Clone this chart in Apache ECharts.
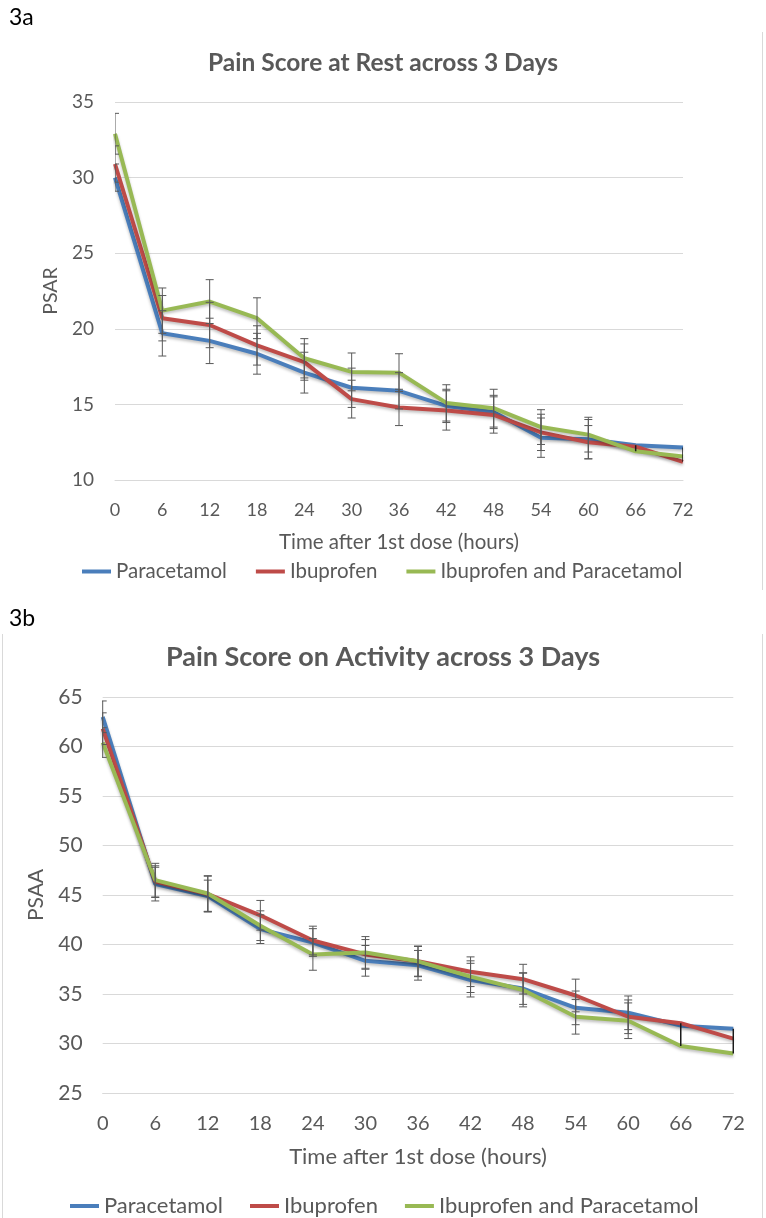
<!DOCTYPE html>
<html><head><meta charset="utf-8">
<script src="https://cdn.jsdelivr.net/npm/echarts@6/dist/echarts.min.js"></script>
<style>html,body{margin:0;padding:0;background:#fff}#c{width:766px;height:1218px}</style>
</head><body><div id="c"></div>
<script>
// ---- data ----
const hours = ['0','6','12','18','24','30','36','42','48','54','60','66','72'];
const seriesNames = ['Paracetamol','Ibuprofen','Ibuprofen and Paracetamol'];
const titleRest = 'Pain Score at Rest across 3 Days';
const titleActivity = 'Pain Score on Activity across 3 Days';
const xName = 'Time after 1st dose (hours)';

// Fig 3a: PSAR
const psarParacetamol = [30.0, 19.7, 19.2, 18.35, 17.1, 16.1, 15.9, 14.9, 14.5, 12.8, 12.7, 12.3, 12.15];
const psarIbuprofen   = [30.9, 20.7, 20.25, 18.9, 17.8, 15.35, 14.8, 14.6, 14.3, 13.15, 12.5, 12.2, 11.2];
const psarCombined    = [32.9, 21.2, 21.8, 20.7, 18.05, 17.15, 17.1, 15.1, 14.75, 13.5, 13.0, 11.9, 11.55];
const psarParacetamolErr = [0.9, 1.5, 1.5, 1.35, 1.35, 1.3, 1.2, 1.1, 1.1, 1.3, 1.3, null, null];
const psarIbuprofenErr   = [1.2, 1.5, 1.5, 1.3, 1.2, 1.25, 1.2, 1.3, 1.2, 1.2, 1.1, null, null];
const psarCombinedErr    = [1.35, 1.5, 1.45, 1.35, 1.3, 1.25, 1.25, 1.2, 1.25, 1.15, 1.15, null, null];

// Fig 3b: PSAA
const psaaParacetamol = [63.0, 46.1, 44.9, 41.55, 40.2, 38.35, 37.9, 36.4, 35.55, 33.6, 33.1, 31.8, 31.5];
const psaaIbuprofen   = [61.8, 46.35, 45.1, 42.95, 40.4, 39.0, 38.3, 37.25, 36.5, 34.85, 32.7, 32.05, 30.5];
const psaaCombined    = [60.4, 46.5, 45.15, 41.9, 39.0, 39.2, 38.3, 36.75, 35.4, 32.7, 32.3, 29.75, 29.0];
const psaaParacetamolErr = [1.6, 1.7, 1.6, 1.45, 1.4, 1.55, 1.5, 1.7, 1.6, 1.7, 1.7, null, null];
const psaaIbuprofenErr   = [1.6, 1.6, 1.8, 1.5, 1.45, 1.5, 1.55, 1.5, 1.5, 1.65, 1.7, null, null];
const psaaCombinedErr    = [1.5, 1.7, 1.8, 1.5, 1.6, 1.6, 1.5, 1.6, 1.7, 1.75, 1.8, null, null];

// ---- styling ----
const FONT = 'Lato';
const colors = ['#4A7EBB', '#BE4B48', '#98B954'];
const gray = '#595959';

function errData(vals, errs) {
  const out = [];
  vals.forEach((v, si) => {
    v.forEach((y, j) => {
      const e = errs[si][j];
      if (e != null) out.push([j, y - e, y + e]);
    });
  });
  return out;
}
function rangeData(vals, errs) {
  const out = [];
  for (let j = 0; j < vals[0].length; j++) {
    if (errs[0][j] == null) {
      const ys = vals.map(v => v[j]);
      out.push([j, Math.min(...ys), Math.max(...ys)]);
    }
  }
  return out;
}
function makeRender(cap, color, width) {
  return function (params, api) {
    const x = api.value(0);
    const lo = api.coord([x, api.value(1)]);
    const hi = api.coord([x, api.value(2)]);
    const st = { stroke: color, lineWidth: width };
    const ch = [{ type: 'line', shape: { x1: lo[0], y1: lo[1], x2: hi[0], y2: hi[1] }, style: st }];
    if (cap) {
      ch.push({ type: 'line', shape: { x1: lo[0] - cap, y1: lo[1], x2: lo[0] + cap, y2: lo[1] }, style: st });
      ch.push({ type: 'line', shape: { x1: hi[0] - cap, y1: hi[1], x2: hi[0] + cap, y2: hi[1] }, style: st });
    }
    return { type: 'group', children: ch };
  };
}

const restVals = [psarParacetamol, psarIbuprofen, psarCombined];
const restErrs = [psarParacetamolErr, psarIbuprofenErr, psarCombinedErr];
const actVals = [psaaParacetamol, psaaIbuprofen, psaaCombined];
const actErrs = [psaaParacetamolErr, psaaIbuprofenErr, psaaCombinedErr];

function lineSeries(vals, idx) {
  return vals.map((v, i) => ({
    name: seriesNames[i], type: 'line', xAxisIndex: idx, yAxisIndex: idx,
    data: v, symbol: 'none', smooth: false, z: 2 + i,
    color: colors[i],
    lineStyle: { width: 4, color: colors[i], shadowColor: 'rgba(0,0,0,0.25)', shadowBlur: 3, shadowOffsetY: 2 }
  }));
}

const chart = echarts.init(document.getElementById('c'), null, { renderer: 'canvas' });
const option = {
  backgroundColor: '#fff',
  animation: false,
  textStyle: { fontFamily: FONT },
  title: [
    { text: titleRest, left: 'center', top: 51, padding: 0,
      textStyle: { fontFamily: FONT, fontSize: 24.5, fontWeight: 'bold', color: gray } },
    { text: titleActivity, left: 'center', top: 644, padding: 0,
      textStyle: { fontFamily: FONT, fontSize: 27, fontWeight: 'bold', color: gray } }
  ],
  legend: [
    { left: 82, top: 561, padding: 0, itemGap: 29, itemWidth: 29, itemHeight: 4, icon: 'rect',
      data: seriesNames, selectedMode: false,
      textStyle: { fontFamily: FONT, fontSize: 20.5, color: gray } },
    { left: 70, top: 1195, padding: 0, itemGap: 27, itemWidth: 29, itemHeight: 4, icon: 'rect',
      data: seriesNames, selectedMode: false,
      textStyle: { fontFamily: FONT, fontSize: 22, color: gray } }
  ],
  grid: [
    { left: 115, width: 568, top: 102, height: 378 },
    { left: 102.7, width: 630.6, top: 697, height: 396 }
  ],
  xAxis: [0, 1].map(i => ({
    type: 'category', gridIndex: i, data: hours, boundaryGap: false,
    axisLine: { show: true, lineStyle: { color: '#D9D9D9', width: 1 } },
    axisTick: { show: false },
    axisLabel: { color: gray, fontFamily: FONT, fontSize: i ? 20 : 18, margin: i ? 21 : 21 },
    name: xName, nameLocation: 'middle', nameGap: i ? 53 : 52,
    nameTextStyle: { color: gray, fontFamily: FONT, fontSize: i ? 22 : 20.5 }
  })),
  yAxis: [
    { type: 'value', gridIndex: 0, min: 10, max: 35, interval: 5,
      axisLine: { show: false }, axisTick: { show: false },
      splitLine: { lineStyle: { color: '#D9D9D9', width: 1 } },
      axisLabel: { color: gray, fontFamily: FONT, fontSize: 19, margin: 21 },
      name: 'PSAR', nameLocation: 'middle', nameGap: 52,
      nameTextStyle: { color: gray, fontFamily: FONT, fontSize: 19.5 } },
    { type: 'value', gridIndex: 1, min: 25, max: 65, interval: 5,
      axisLine: { show: false }, axisTick: { show: false },
      splitLine: { lineStyle: { color: '#D9D9D9', width: 1 } },
      axisLabel: { color: gray, fontFamily: FONT, fontSize: 21, margin: 20 },
      name: 'PSAA', nameLocation: 'middle', nameGap: 56,
      nameTextStyle: { color: gray, fontFamily: FONT, fontSize: 21 } }
  ],
  graphic: [
    { type: 'text', left: 9, top: 6, style: { text: '3a', font: '23px ' + FONT, fill: '#000' } },
    { type: 'text', left: 9, top: 607, style: { text: '3b', font: '23px ' + FONT, fill: '#000' } },
    { type: 'line', shape: { x1: 762.5, y1: 32, x2: 762.5, y2: 590 }, style: { stroke: '#D9D9D9', lineWidth: 1 } },
    { type: 'line', shape: { x1: 2.5, y1: 634, x2: 2.5, y2: 1218 }, style: { stroke: '#D9D9D9', lineWidth: 1 } },
    { type: 'line', shape: { x1: 762.5, y1: 634, x2: 762.5, y2: 1218 }, style: { stroke: '#D9D9D9', lineWidth: 1 } }
  ],
  series: [
    ...lineSeries(restVals, 0),
    ...lineSeries(actVals, 1),
    { type: 'custom', name: 'errRest', xAxisIndex: 0, yAxisIndex: 0, z: 10, clip: true,
      renderItem: makeRender(4, gray, 1), data: errData(restVals, restErrs), silent: true },
    { type: 'custom', name: 'rangeRest', xAxisIndex: 0, yAxisIndex: 0, z: 10, clip: true,
      renderItem: makeRender(0, '#1a1a1a', 1.5), data: rangeData(restVals, restErrs), silent: true },
    { type: 'custom', name: 'errAct', xAxisIndex: 1, yAxisIndex: 1, z: 10, clip: true,
      renderItem: makeRender(4, gray, 1), data: errData(actVals, actErrs), silent: true },
    { type: 'custom', name: 'rangeAct', xAxisIndex: 1, yAxisIndex: 1, z: 10, clip: true,
      renderItem: makeRender(0, '#1a1a1a', 1.5), data: rangeData(actVals, actErrs), silent: true }
  ]
};
chart.setOption(option);
</script>
</body></html>
